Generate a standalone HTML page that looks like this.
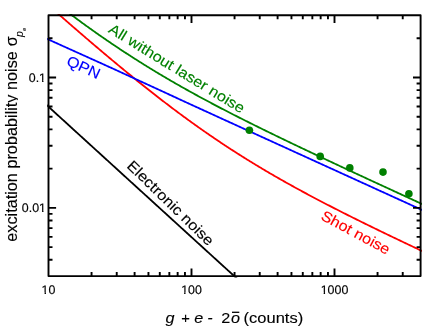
<!DOCTYPE html>
<html><head><meta charset="utf-8"><style>
html,body{margin:0;padding:0;background:#fff;}
svg{display:block;will-change:transform}
text{font-family:"Liberation Sans",sans-serif;}
</style></head><body>
<svg width="436" height="332" viewBox="0 0 436 332">
<rect width="436" height="332" fill="#fff"/>
<defs><clipPath id="c"><rect x="47.2" y="14.0" width="374.70000000000005" height="263.40000000000003"/></clipPath></defs>
<g clip-path="url(#c)" fill="none" stroke-width="1.8">
<path d="M44.21,102.82 L45.16,103.69 L46.11,104.55 L47.07,105.42 L48.02,106.29 L48.97,107.16 L49.92,108.02 L50.87,108.89 L51.82,109.76 L52.78,110.63 L53.73,111.50 L54.68,112.36 L55.63,113.23 L56.58,114.10 L57.53,114.97 L58.49,115.84 L59.44,116.70 L60.39,117.57 L61.34,118.44 L62.29,119.31 L63.24,120.17 L64.20,121.04 L65.15,121.91 L66.10,122.78 L67.05,123.65 L68.00,124.51 L68.95,125.38 L69.91,126.25 L70.86,127.12 L71.81,127.98 L72.76,128.85 L73.71,129.72 L74.66,130.59 L75.62,131.46 L76.57,132.32 L77.52,133.19 L78.47,134.06 L79.42,134.93 L80.37,135.80 L81.33,136.66 L82.28,137.53 L83.23,138.40 L84.18,139.27 L85.13,140.13 L86.08,141.00 L87.04,141.87 L87.99,142.74 L88.94,143.61 L89.89,144.47 L90.84,145.34 L91.79,146.21 L92.75,147.08 L93.70,147.94 L94.65,148.81 L95.60,149.68 L96.55,150.55 L97.51,151.42 L98.46,152.28 L99.41,153.15 L100.36,154.02 L101.31,154.89 L102.26,155.76 L103.22,156.62 L104.17,157.49 L105.12,158.36 L106.07,159.23 L107.02,160.09 L107.97,160.96 L108.93,161.83 L109.88,162.70 L110.83,163.57 L111.78,164.43 L112.73,165.30 L113.68,166.17 L114.64,167.04 L115.59,167.90 L116.54,168.77 L117.49,169.64 L118.44,170.51 L119.39,171.38 L120.35,172.24 L121.30,173.11 L122.25,173.98 L123.20,174.85 L124.15,175.72 L125.10,176.58 L126.06,177.45 L127.01,178.32 L127.96,179.19 L128.91,180.05 L129.86,180.92 L130.81,181.79 L131.77,182.66 L132.72,183.53 L133.67,184.39 L134.62,185.26 L135.57,186.13 L136.52,187.00 L137.48,187.87 L138.43,188.73 L139.38,189.60 L140.33,190.47 L141.28,191.34 L142.24,192.20 L143.19,193.07 L144.14,193.94 L145.09,194.81 L146.04,195.68 L146.99,196.54 L147.95,197.41 L148.90,198.28 L149.85,199.15 L150.80,200.01 L151.75,200.88 L152.70,201.75 L153.66,202.62 L154.61,203.49 L155.56,204.35 L156.51,205.22 L157.46,206.09 L158.41,206.96 L159.37,207.83 L160.32,208.69 L161.27,209.56 L162.22,210.43 L163.17,211.30 L164.12,212.16 L165.08,213.03 L166.03,213.90 L166.98,214.77 L167.93,215.64 L168.88,216.50 L169.83,217.37 L170.79,218.24 L171.74,219.11 L172.69,219.97 L173.64,220.84 L174.59,221.71 L175.54,222.58 L176.50,223.45 L177.45,224.31 L178.40,225.18 L179.35,226.05 L180.30,226.92 L181.25,227.79 L182.21,228.65 L183.16,229.52 L184.11,230.39 L185.06,231.26 L186.01,232.12 L186.96,232.99 L187.92,233.86 L188.87,234.73 L189.82,235.60 L190.77,236.46 L191.72,237.33 L192.68,238.20 L193.63,239.07 L194.58,239.93 L195.53,240.80 L196.48,241.67 L197.43,242.54 L198.39,243.41 L199.34,244.27 L200.29,245.14 L201.24,246.01 L202.19,246.88 L203.14,247.75 L204.10,248.61 L205.05,249.48 L206.00,250.35 L206.95,251.22 L207.90,252.08 L208.85,252.95 L209.81,253.82 L210.76,254.69 L211.71,255.56 L212.66,256.42 L213.61,257.29 L214.56,258.16 L215.52,259.03 L216.47,259.90 L217.42,260.76 L218.37,261.63 L219.32,262.50 L220.27,263.37 L221.23,264.23 L222.18,265.10 L223.13,265.97 L224.08,266.84 L225.03,267.71 L225.98,268.57 L226.94,269.44 L227.89,270.31 L228.84,271.18 L229.79,272.04 L230.74,272.91 L231.69,273.78 L232.65,274.65 L233.60,275.52 L234.55,276.38 L235.50,277.25 L236.45,278.12 L237.41,278.99 L238.36,279.86 L239.31,280.72 L240.26,281.59 L241.21,282.46 L242.16,283.33 L243.12,284.19 L244.07,285.06 L245.02,285.93 L245.97,286.80 L246.92,287.67 L247.87,288.53 L248.83,289.40 L249.78,290.27 L250.73,291.14 L251.68,292.00 L252.63,292.87 L253.58,293.74 L254.54,294.61 L255.49,295.48 L256.44,296.34 L257.39,297.21 L258.34,298.08 L259.29,298.95 L260.25,299.82 L261.20,300.68 L262.15,301.55 L263.10,302.42 L264.05,303.29 L265.00,304.15 L265.96,305.02 L266.91,305.89 L267.86,306.76 L268.81,307.63 L269.76,308.49 L270.71,309.36 L271.67,310.23 L272.62,311.10 L273.57,311.96 L274.52,312.83 L275.47,313.70 L276.42,314.57 L277.38,315.44 L278.33,316.30 L279.28,317.17 L280.23,318.04 L281.18,318.91 L282.14,319.78 L283.09,320.64 L284.04,321.51 L284.99,322.38 L285.94,323.25 L286.89,324.11 L287.85,324.98 L288.80,325.85 L289.75,326.72 L290.70,327.59 L291.65,328.45 L292.60,329.32 L293.56,330.19 L294.51,331.06 L295.46,331.93 L296.41,332.79 L297.36,333.66 L298.31,334.53 L299.27,335.40 L300.22,336.26 L301.17,337.13 L302.12,338.00 L303.07,338.87 L304.02,339.74 L304.98,340.60 L305.93,341.47 L306.88,342.34 L307.83,343.21 L308.78,344.07 L309.73,344.94 L310.69,345.81 L311.64,346.68 L312.59,347.55 L313.54,348.41 L314.49,349.28 L315.44,350.15 L316.40,351.02 L317.35,351.89 L318.30,352.75 L319.25,353.62 L320.20,354.49 L321.15,355.36 L322.11,356.22 L323.06,357.09 L324.01,357.96 L324.96,358.83 L325.91,359.70 L326.86,360.56 L327.82,361.43 L328.77,362.30 L329.72,363.17 L330.67,364.03 L331.62,364.90 L332.58,365.77 L333.53,366.64 L334.48,367.51 L335.43,368.37 L336.38,369.24 L337.33,370.11 L338.29,370.98 L339.24,371.85 L340.19,372.71 L341.14,373.58 L342.09,374.45 L343.04,375.32 L344.00,376.18 L344.95,377.05 L345.90,377.92 L346.85,378.79 L347.80,379.66 L348.75,380.52 L349.71,381.39 L350.66,382.26 L351.61,383.13 L352.56,383.99 L353.51,384.86 L354.46,385.73 L355.42,386.60 L356.37,387.47 L357.32,388.33 L358.27,389.20 L359.22,390.07 L360.17,390.94 L361.13,391.81 L362.08,392.67 L363.03,393.54 L363.98,394.41 L364.93,395.28 L365.88,396.14 L366.84,397.01 L367.79,397.88 L368.74,398.75 L369.69,399.62 L370.64,400.48 L371.59,401.35 L372.55,402.22 L373.50,403.09 L374.45,403.96 L375.40,404.82 L376.35,405.69 L377.31,406.56 L378.26,407.43 L379.21,408.29 L380.16,409.16 L381.11,410.03 L382.06,410.90 L383.02,411.77 L383.97,412.63 L384.92,413.50 L385.87,414.37 L386.82,415.24 L387.77,416.10 L388.73,416.97 L389.68,417.84 L390.63,418.71 L391.58,419.58 L392.53,420.44 L393.48,421.31 L394.44,422.18 L395.39,423.05 L396.34,423.92 L397.29,424.78 L398.24,425.65 L399.19,426.52 L400.15,427.39 L401.10,428.25 L402.05,429.12 L403.00,429.99 L403.95,430.86 L404.90,431.73 L405.86,432.59 L406.81,433.46 L407.76,434.33 L408.71,435.20 L409.66,436.06 L410.61,436.93 L411.57,437.80 L412.52,438.67 L413.47,439.54 L414.42,440.40 L415.37,441.27 L416.32,442.14 L417.28,443.01 L418.23,443.88 L419.18,444.74 L420.13,445.61 L421.08,446.48 L422.03,447.35 L422.99,448.21 L423.94,449.08 L424.89,449.95" stroke="#000"/>
<path d="M44.21,1.55 L45.16,2.39 L46.11,3.23 L47.07,4.07 L48.02,4.91 L48.97,5.75 L49.92,6.59 L50.87,7.43 L51.82,8.26 L52.78,9.10 L53.73,9.94 L54.68,10.77 L55.63,11.61 L56.58,12.44 L57.53,13.28 L58.49,14.11 L59.44,14.94 L60.39,15.78 L61.34,16.61 L62.29,17.44 L63.24,18.27 L64.20,19.10 L65.15,19.94 L66.10,20.77 L67.05,21.59 L68.00,22.42 L68.95,23.25 L69.91,24.08 L70.86,24.91 L71.81,25.73 L72.76,26.56 L73.71,27.39 L74.66,28.21 L75.62,29.03 L76.57,29.86 L77.52,30.68 L78.47,31.50 L79.42,32.33 L80.37,33.15 L81.33,33.97 L82.28,34.79 L83.23,35.61 L84.18,36.43 L85.13,37.24 L86.08,38.06 L87.04,38.88 L87.99,39.69 L88.94,40.51 L89.89,41.32 L90.84,42.14 L91.79,42.95 L92.75,43.76 L93.70,44.57 L94.65,45.39 L95.60,46.20 L96.55,47.00 L97.51,47.81 L98.46,48.62 L99.41,49.43 L100.36,50.23 L101.31,51.04 L102.26,51.84 L103.22,52.65 L104.17,53.45 L105.12,54.25 L106.07,55.05 L107.02,55.85 L107.97,56.65 L108.93,57.45 L109.88,58.25 L110.83,59.05 L111.78,59.84 L112.73,60.64 L113.68,61.43 L114.64,62.22 L115.59,63.01 L116.54,63.81 L117.49,64.60 L118.44,65.38 L119.39,66.17 L120.35,66.96 L121.30,67.75 L122.25,68.53 L123.20,69.31 L124.15,70.10 L125.10,70.88 L126.06,71.66 L127.01,72.44 L127.96,73.22 L128.91,74.00 L129.86,74.77 L130.81,75.55 L131.77,76.32 L132.72,77.10 L133.67,77.87 L134.62,78.64 L135.57,79.41 L136.52,80.18 L137.48,80.94 L138.43,81.71 L139.38,82.47 L140.33,83.24 L141.28,84.00 L142.24,84.76 L143.19,85.52 L144.14,86.28 L145.09,87.04 L146.04,87.79 L146.99,88.55 L147.95,89.30 L148.90,90.06 L149.85,90.81 L150.80,91.56 L151.75,92.31 L152.70,93.05 L153.66,93.80 L154.61,94.54 L155.56,95.29 L156.51,96.03 L157.46,96.77 L158.41,97.51 L159.37,98.24 L160.32,98.98 L161.27,99.72 L162.22,100.45 L163.17,101.18 L164.12,101.91 L165.08,102.64 L166.03,103.37 L166.98,104.09 L167.93,104.82 L168.88,105.54 L169.83,106.26 L170.79,106.98 L171.74,107.70 L172.69,108.42 L173.64,109.14 L174.59,109.85 L175.54,110.56 L176.50,111.27 L177.45,111.98 L178.40,112.69 L179.35,113.40 L180.30,114.10 L181.25,114.81 L182.21,115.51 L183.16,116.21 L184.11,116.91 L185.06,117.60 L186.01,118.30 L186.96,118.99 L187.92,119.69 L188.87,120.38 L189.82,121.07 L190.77,121.75 L191.72,122.44 L192.68,123.12 L193.63,123.81 L194.58,124.49 L195.53,125.17 L196.48,125.84 L197.43,126.52 L198.39,127.19 L199.34,127.87 L200.29,128.54 L201.24,129.21 L202.19,129.88 L203.14,130.54 L204.10,131.21 L205.05,131.87 L206.00,132.53 L206.95,133.19 L207.90,133.85 L208.85,134.51 L209.81,135.16 L210.76,135.81 L211.71,136.46 L212.66,137.11 L213.61,137.76 L214.56,138.41 L215.52,139.05 L216.47,139.70 L217.42,140.34 L218.37,140.98 L219.32,141.61 L220.27,142.25 L221.23,142.89 L222.18,143.52 L223.13,144.15 L224.08,144.78 L225.03,145.41 L225.98,146.03 L226.94,146.66 L227.89,147.28 L228.84,147.90 L229.79,148.52 L230.74,149.14 L231.69,149.76 L232.65,150.37 L233.60,150.99 L234.55,151.60 L235.50,152.21 L236.45,152.82 L237.41,153.42 L238.36,154.03 L239.31,154.63 L240.26,155.24 L241.21,155.84 L242.16,156.44 L243.12,157.03 L244.07,157.63 L245.02,158.22 L245.97,158.82 L246.92,159.41 L247.87,160.00 L248.83,160.59 L249.78,161.17 L250.73,161.76 L251.68,162.34 L252.63,162.92 L253.58,163.51 L254.54,164.08 L255.49,164.66 L256.44,165.24 L257.39,165.81 L258.34,166.39 L259.29,166.96 L260.25,167.53 L261.20,168.10 L262.15,168.67 L263.10,169.23 L264.05,169.80 L265.00,170.36 L265.96,170.92 L266.91,171.48 L267.86,172.04 L268.81,172.60 L269.76,173.16 L270.71,173.71 L271.67,174.27 L272.62,174.82 L273.57,175.37 L274.52,175.92 L275.47,176.47 L276.42,177.02 L277.38,177.56 L278.33,178.11 L279.28,178.65 L280.23,179.19 L281.18,179.73 L282.14,180.27 L283.09,180.81 L284.04,181.35 L284.99,181.89 L285.94,182.42 L286.89,182.95 L287.85,183.49 L288.80,184.02 L289.75,184.55 L290.70,185.08 L291.65,185.61 L292.60,186.13 L293.56,186.66 L294.51,187.18 L295.46,187.71 L296.41,188.23 L297.36,188.75 L298.31,189.27 L299.27,189.79 L300.22,190.31 L301.17,190.83 L302.12,191.34 L303.07,191.86 L304.02,192.37 L304.98,192.89 L305.93,193.40 L306.88,193.91 L307.83,194.42 L308.78,194.93 L309.73,195.44 L310.69,195.94 L311.64,196.45 L312.59,196.96 L313.54,197.46 L314.49,197.97 L315.44,198.47 L316.40,198.97 L317.35,199.47 L318.30,199.97 L319.25,200.47 L320.20,200.97 L321.15,201.47 L322.11,201.96 L323.06,202.46 L324.01,202.96 L324.96,203.45 L325.91,203.94 L326.86,204.44 L327.82,204.93 L328.77,205.42 L329.72,205.91 L330.67,206.40 L331.62,206.89 L332.58,207.38 L333.53,207.86 L334.48,208.35 L335.43,208.84 L336.38,209.32 L337.33,209.81 L338.29,210.29 L339.24,210.78 L340.19,211.26 L341.14,211.74 L342.09,212.22 L343.04,212.70 L344.00,213.18 L344.95,213.66 L345.90,214.14 L346.85,214.62 L347.80,215.10 L348.75,215.57 L349.71,216.05 L350.66,216.53 L351.61,217.00 L352.56,217.48 L353.51,217.95 L354.46,218.42 L355.42,218.90 L356.37,219.37 L357.32,219.84 L358.27,220.31 L359.22,220.78 L360.17,221.26 L361.13,221.73 L362.08,222.19 L363.03,222.66 L363.98,223.13 L364.93,223.60 L365.88,224.07 L366.84,224.53 L367.79,225.00 L368.74,225.47 L369.69,225.93 L370.64,226.40 L371.59,226.86 L372.55,227.33 L373.50,227.79 L374.45,228.25 L375.40,228.72 L376.35,229.18 L377.31,229.64 L378.26,230.10 L379.21,230.57 L380.16,231.03 L381.11,231.49 L382.06,231.95 L383.02,232.41 L383.97,232.87 L384.92,233.33 L385.87,233.78 L386.82,234.24 L387.77,234.70 L388.73,235.16 L389.68,235.62 L390.63,236.07 L391.58,236.53 L392.53,236.99 L393.48,237.44 L394.44,237.90 L395.39,238.35 L396.34,238.81 L397.29,239.26 L398.24,239.72 L399.19,240.17 L400.15,240.63 L401.10,241.08 L402.05,241.53 L403.00,241.99 L403.95,242.44 L404.90,242.89 L405.86,243.34 L406.81,243.80 L407.76,244.25 L408.71,244.70 L409.66,245.15 L410.61,245.60 L411.57,246.05 L412.52,246.50 L413.47,246.95 L414.42,247.40 L415.37,247.85 L416.32,248.30 L417.28,248.75 L418.23,249.20 L419.18,249.65 L420.13,250.10 L421.08,250.55 L422.03,250.99 L422.99,251.44 L423.94,251.89 L424.89,252.34" stroke="#ff0000"/>
<path d="M44.21,37.61 L45.16,38.04 L46.11,38.47 L47.07,38.90 L48.02,39.33 L48.97,39.76 L49.92,40.19 L50.87,40.62 L51.82,41.05 L52.78,41.48 L53.73,41.91 L54.68,42.33 L55.63,42.76 L56.58,43.19 L57.53,43.62 L58.49,44.05 L59.44,44.48 L60.39,44.91 L61.34,45.34 L62.29,45.77 L63.24,46.20 L64.20,46.62 L65.15,47.05 L66.10,47.48 L67.05,47.91 L68.00,48.34 L68.95,48.77 L69.91,49.20 L70.86,49.62 L71.81,50.05 L72.76,50.48 L73.71,50.91 L74.66,51.34 L75.62,51.77 L76.57,52.20 L77.52,52.62 L78.47,53.05 L79.42,53.48 L80.37,53.91 L81.33,54.34 L82.28,54.77 L83.23,55.20 L84.18,55.62 L85.13,56.05 L86.08,56.48 L87.04,56.91 L87.99,57.34 L88.94,57.77 L89.89,58.20 L90.84,58.63 L91.79,59.06 L92.75,59.49 L93.70,59.92 L94.65,60.35 L95.60,60.78 L96.55,61.21 L97.51,61.64 L98.46,62.07 L99.41,62.50 L100.36,62.93 L101.31,63.36 L102.26,63.79 L103.22,64.23 L104.17,64.66 L105.12,65.09 L106.07,65.52 L107.02,65.95 L107.97,66.39 L108.93,66.82 L109.88,67.25 L110.83,67.68 L111.78,68.12 L112.73,68.55 L113.68,68.98 L114.64,69.42 L115.59,69.85 L116.54,70.29 L117.49,70.72 L118.44,71.15 L119.39,71.59 L120.35,72.02 L121.30,72.46 L122.25,72.89 L123.20,73.33 L124.15,73.77 L125.10,74.20 L126.06,74.64 L127.01,75.07 L127.96,75.51 L128.91,75.95 L129.86,76.38 L130.81,76.82 L131.77,77.26 L132.72,77.69 L133.67,78.13 L134.62,78.57 L135.57,79.01 L136.52,79.45 L137.48,79.88 L138.43,80.32 L139.38,80.76 L140.33,81.20 L141.28,81.64 L142.24,82.08 L143.19,82.51 L144.14,82.95 L145.09,83.39 L146.04,83.83 L146.99,84.27 L147.95,84.71 L148.90,85.15 L149.85,85.59 L150.80,86.03 L151.75,86.47 L152.70,86.90 L153.66,87.34 L154.61,87.78 L155.56,88.22 L156.51,88.66 L157.46,89.10 L158.41,89.54 L159.37,89.98 L160.32,90.42 L161.27,90.86 L162.22,91.30 L163.17,91.74 L164.12,92.18 L165.08,92.62 L166.03,93.05 L166.98,93.49 L167.93,93.93 L168.88,94.37 L169.83,94.81 L170.79,95.25 L171.74,95.69 L172.69,96.13 L173.64,96.57 L174.59,97.00 L175.54,97.44 L176.50,97.88 L177.45,98.32 L178.40,98.76 L179.35,99.20 L180.30,99.64 L181.25,100.07 L182.21,100.51 L183.16,100.95 L184.11,101.39 L185.06,101.82 L186.01,102.26 L186.96,102.70 L187.92,103.14 L188.87,103.57 L189.82,104.01 L190.77,104.45 L191.72,104.89 L192.68,105.32 L193.63,105.76 L194.58,106.20 L195.53,106.63 L196.48,107.07 L197.43,107.51 L198.39,107.94 L199.34,108.38 L200.29,108.82 L201.24,109.25 L202.19,109.69 L203.14,110.13 L204.10,110.56 L205.05,111.00 L206.00,111.43 L206.95,111.87 L207.90,112.30 L208.85,112.74 L209.81,113.18 L210.76,113.61 L211.71,114.05 L212.66,114.48 L213.61,114.92 L214.56,115.35 L215.52,115.79 L216.47,116.22 L217.42,116.66 L218.37,117.09 L219.32,117.53 L220.27,117.96 L221.23,118.40 L222.18,118.83 L223.13,119.27 L224.08,119.70 L225.03,120.14 L225.98,120.57 L226.94,121.01 L227.89,121.44 L228.84,121.88 L229.79,122.31 L230.74,122.75 L231.69,123.18 L232.65,123.61 L233.60,124.05 L234.55,124.48 L235.50,124.92 L236.45,125.35 L237.41,125.79 L238.36,126.22 L239.31,126.65 L240.26,127.09 L241.21,127.52 L242.16,127.96 L243.12,128.39 L244.07,128.83 L245.02,129.26 L245.97,129.69 L246.92,130.13 L247.87,130.56 L248.83,131.00 L249.78,131.43 L250.73,131.86 L251.68,132.30 L252.63,132.73 L253.58,133.17 L254.54,133.60 L255.49,134.04 L256.44,134.47 L257.39,134.90 L258.34,135.34 L259.29,135.77 L260.25,136.21 L261.20,136.64 L262.15,137.07 L263.10,137.51 L264.05,137.94 L265.00,138.38 L265.96,138.81 L266.91,139.24 L267.86,139.68 L268.81,140.11 L269.76,140.54 L270.71,140.98 L271.67,141.41 L272.62,141.85 L273.57,142.28 L274.52,142.71 L275.47,143.15 L276.42,143.58 L277.38,144.02 L278.33,144.45 L279.28,144.88 L280.23,145.32 L281.18,145.75 L282.14,146.19 L283.09,146.62 L284.04,147.05 L284.99,147.49 L285.94,147.92 L286.89,148.36 L287.85,148.79 L288.80,149.22 L289.75,149.66 L290.70,150.09 L291.65,150.53 L292.60,150.96 L293.56,151.39 L294.51,151.83 L295.46,152.26 L296.41,152.70 L297.36,153.13 L298.31,153.56 L299.27,154.00 L300.22,154.43 L301.17,154.86 L302.12,155.30 L303.07,155.73 L304.02,156.17 L304.98,156.60 L305.93,157.03 L306.88,157.47 L307.83,157.90 L308.78,158.34 L309.73,158.77 L310.69,159.20 L311.64,159.64 L312.59,160.07 L313.54,160.51 L314.49,160.94 L315.44,161.37 L316.40,161.81 L317.35,162.24 L318.30,162.68 L319.25,163.11 L320.20,163.54 L321.15,163.98 L322.11,164.41 L323.06,164.84 L324.01,165.28 L324.96,165.71 L325.91,166.15 L326.86,166.58 L327.82,167.01 L328.77,167.45 L329.72,167.88 L330.67,168.32 L331.62,168.75 L332.58,169.18 L333.53,169.62 L334.48,170.05 L335.43,170.49 L336.38,170.92 L337.33,171.35 L338.29,171.79 L339.24,172.22 L340.19,172.66 L341.14,173.09 L342.09,173.52 L343.04,173.96 L344.00,174.39 L344.95,174.82 L345.90,175.26 L346.85,175.69 L347.80,176.13 L348.75,176.56 L349.71,176.99 L350.66,177.43 L351.61,177.86 L352.56,178.30 L353.51,178.73 L354.46,179.16 L355.42,179.60 L356.37,180.03 L357.32,180.47 L358.27,180.90 L359.22,181.33 L360.17,181.77 L361.13,182.20 L362.08,182.64 L363.03,183.07 L363.98,183.50 L364.93,183.94 L365.88,184.37 L366.84,184.80 L367.79,185.24 L368.74,185.67 L369.69,186.11 L370.64,186.54 L371.59,186.97 L372.55,187.41 L373.50,187.84 L374.45,188.28 L375.40,188.71 L376.35,189.14 L377.31,189.58 L378.26,190.01 L379.21,190.45 L380.16,190.88 L381.11,191.31 L382.06,191.75 L383.02,192.18 L383.97,192.62 L384.92,193.05 L385.87,193.48 L386.82,193.92 L387.77,194.35 L388.73,194.78 L389.68,195.22 L390.63,195.65 L391.58,196.09 L392.53,196.52 L393.48,196.95 L394.44,197.39 L395.39,197.82 L396.34,198.26 L397.29,198.69 L398.24,199.12 L399.19,199.56 L400.15,199.99 L401.10,200.43 L402.05,200.86 L403.00,201.29 L403.95,201.73 L404.90,202.16 L405.86,202.60 L406.81,203.03 L407.76,203.46 L408.71,203.90 L409.66,204.33 L410.61,204.77 L411.57,205.20 L412.52,205.63 L413.47,206.07 L414.42,206.50 L415.37,206.93 L416.32,207.37 L417.28,207.80 L418.23,208.24 L419.18,208.67 L420.13,209.10 L421.08,209.54 L422.03,209.97 L422.99,210.41 L423.94,210.84 L424.89,211.27" stroke="#0000ff"/>
<path d="M44.21,-6.05 L45.16,-5.29 L46.11,-4.54 L47.07,-3.79 L48.02,-3.04 L48.97,-2.30 L49.92,-1.55 L50.87,-0.81 L51.82,-0.06 L52.78,0.68 L53.73,1.42 L54.68,2.16 L55.63,2.89 L56.58,3.63 L57.53,4.36 L58.49,5.10 L59.44,5.83 L60.39,6.56 L61.34,7.29 L62.29,8.01 L63.24,8.74 L64.20,9.46 L65.15,10.18 L66.10,10.91 L67.05,11.63 L68.00,12.34 L68.95,13.06 L69.91,13.77 L70.86,14.49 L71.81,15.20 L72.76,15.91 L73.71,16.62 L74.66,17.33 L75.62,18.03 L76.57,18.73 L77.52,19.44 L78.47,20.14 L79.42,20.84 L80.37,21.53 L81.33,22.23 L82.28,22.92 L83.23,23.62 L84.18,24.31 L85.13,25.00 L86.08,25.69 L87.04,26.37 L87.99,27.06 L88.94,27.74 L89.89,28.42 L90.84,29.10 L91.79,29.78 L92.75,30.46 L93.70,31.13 L94.65,31.80 L95.60,32.48 L96.55,33.15 L97.51,33.81 L98.46,34.48 L99.41,35.15 L100.36,35.81 L101.31,36.47 L102.26,37.13 L103.22,37.79 L104.17,38.45 L105.12,39.10 L106.07,39.76 L107.02,40.41 L107.97,41.06 L108.93,41.71 L109.88,42.36 L110.83,43.01 L111.78,43.65 L112.73,44.29 L113.68,44.93 L114.64,45.57 L115.59,46.21 L116.54,46.85 L117.49,47.48 L118.44,48.12 L119.39,48.75 L120.35,49.38 L121.30,50.01 L122.25,50.64 L123.20,51.26 L124.15,51.89 L125.10,52.51 L126.06,53.13 L127.01,53.75 L127.96,54.37 L128.91,54.98 L129.86,55.60 L130.81,56.21 L131.77,56.82 L132.72,57.43 L133.67,58.04 L134.62,58.65 L135.57,59.26 L136.52,59.86 L137.48,60.46 L138.43,61.07 L139.38,61.67 L140.33,62.27 L141.28,62.86 L142.24,63.46 L143.19,64.05 L144.14,64.64 L145.09,65.24 L146.04,65.83 L146.99,66.41 L147.95,67.00 L148.90,67.59 L149.85,68.17 L150.80,68.75 L151.75,69.33 L152.70,69.91 L153.66,70.49 L154.61,71.07 L155.56,71.65 L156.51,72.22 L157.46,72.79 L158.41,73.36 L159.37,73.93 L160.32,74.50 L161.27,75.07 L162.22,75.63 L163.17,76.20 L164.12,76.76 L165.08,77.32 L166.03,77.88 L166.98,78.44 L167.93,79.00 L168.88,79.56 L169.83,80.11 L170.79,80.67 L171.74,81.22 L172.69,81.77 L173.64,82.32 L174.59,82.87 L175.54,83.41 L176.50,83.96 L177.45,84.50 L178.40,85.05 L179.35,85.59 L180.30,86.13 L181.25,86.67 L182.21,87.21 L183.16,87.75 L184.11,88.28 L185.06,88.82 L186.01,89.35 L186.96,89.88 L187.92,90.41 L188.87,90.94 L189.82,91.47 L190.77,92.00 L191.72,92.53 L192.68,93.05 L193.63,93.58 L194.58,94.10 L195.53,94.62 L196.48,95.14 L197.43,95.66 L198.39,96.18 L199.34,96.70 L200.29,97.21 L201.24,97.73 L202.19,98.24 L203.14,98.76 L204.10,99.27 L205.05,99.78 L206.00,100.29 L206.95,100.80 L207.90,101.31 L208.85,101.82 L209.81,102.32 L210.76,102.83 L211.71,103.33 L212.66,103.84 L213.61,104.34 L214.56,104.84 L215.52,105.34 L216.47,105.84 L217.42,106.34 L218.37,106.84 L219.32,107.34 L220.27,107.84 L221.23,108.33 L222.18,108.83 L223.13,109.32 L224.08,109.81 L225.03,110.31 L225.98,110.80 L226.94,111.29 L227.89,111.78 L228.84,112.27 L229.79,112.76 L230.74,113.24 L231.69,113.73 L232.65,114.22 L233.60,114.70 L234.55,115.19 L235.50,115.67 L236.45,116.16 L237.41,116.64 L238.36,117.12 L239.31,117.60 L240.26,118.09 L241.21,118.57 L242.16,119.05 L243.12,119.52 L244.07,120.00 L245.02,120.48 L245.97,120.96 L246.92,121.43 L247.87,121.91 L248.83,122.39 L249.78,122.86 L250.73,123.33 L251.68,123.81 L252.63,124.28 L253.58,124.75 L254.54,125.23 L255.49,125.70 L256.44,126.17 L257.39,126.64 L258.34,127.11 L259.29,127.58 L260.25,128.05 L261.20,128.52 L262.15,128.98 L263.10,129.45 L264.05,129.92 L265.00,130.38 L265.96,130.85 L266.91,131.32 L267.86,131.78 L268.81,132.25 L269.76,132.71 L270.71,133.17 L271.67,133.64 L272.62,134.10 L273.57,134.56 L274.52,135.03 L275.47,135.49 L276.42,135.95 L277.38,136.41 L278.33,136.87 L279.28,137.33 L280.23,137.79 L281.18,138.25 L282.14,138.71 L283.09,139.17 L284.04,139.63 L284.99,140.08 L285.94,140.54 L286.89,141.00 L287.85,141.46 L288.80,141.91 L289.75,142.37 L290.70,142.83 L291.65,143.28 L292.60,143.74 L293.56,144.19 L294.51,144.65 L295.46,145.10 L296.41,145.55 L297.36,146.01 L298.31,146.46 L299.27,146.92 L300.22,147.37 L301.17,147.82 L302.12,148.27 L303.07,148.73 L304.02,149.18 L304.98,149.63 L305.93,150.08 L306.88,150.53 L307.83,150.98 L308.78,151.43 L309.73,151.88 L310.69,152.33 L311.64,152.78 L312.59,153.23 L313.54,153.68 L314.49,154.13 L315.44,154.58 L316.40,155.03 L317.35,155.48 L318.30,155.93 L319.25,156.38 L320.20,156.82 L321.15,157.27 L322.11,157.72 L323.06,158.17 L324.01,158.61 L324.96,159.06 L325.91,159.51 L326.86,159.95 L327.82,160.40 L328.77,160.85 L329.72,161.29 L330.67,161.74 L331.62,162.18 L332.58,162.63 L333.53,163.07 L334.48,163.52 L335.43,163.96 L336.38,164.41 L337.33,164.85 L338.29,165.30 L339.24,165.74 L340.19,166.19 L341.14,166.63 L342.09,167.07 L343.04,167.52 L344.00,167.96 L344.95,168.40 L345.90,168.85 L346.85,169.29 L347.80,169.73 L348.75,170.18 L349.71,170.62 L350.66,171.06 L351.61,171.50 L352.56,171.95 L353.51,172.39 L354.46,172.83 L355.42,173.27 L356.37,173.72 L357.32,174.16 L358.27,174.60 L359.22,175.04 L360.17,175.48 L361.13,175.92 L362.08,176.36 L363.03,176.80 L363.98,177.25 L364.93,177.69 L365.88,178.13 L366.84,178.57 L367.79,179.01 L368.74,179.45 L369.69,179.89 L370.64,180.33 L371.59,180.77 L372.55,181.21 L373.50,181.65 L374.45,182.09 L375.40,182.53 L376.35,182.97 L377.31,183.41 L378.26,183.85 L379.21,184.29 L380.16,184.73 L381.11,185.17 L382.06,185.61 L383.02,186.04 L383.97,186.48 L384.92,186.92 L385.87,187.36 L386.82,187.80 L387.77,188.24 L388.73,188.68 L389.68,189.12 L390.63,189.55 L391.58,189.99 L392.53,190.43 L393.48,190.87 L394.44,191.31 L395.39,191.75 L396.34,192.18 L397.29,192.62 L398.24,193.06 L399.19,193.50 L400.15,193.94 L401.10,194.37 L402.05,194.81 L403.00,195.25 L403.95,195.69 L404.90,196.13 L405.86,196.56 L406.81,197.00 L407.76,197.44 L408.71,197.87 L409.66,198.31 L410.61,198.75 L411.57,199.19 L412.52,199.62 L413.47,200.06 L414.42,200.50 L415.37,200.94 L416.32,201.37 L417.28,201.81 L418.23,202.25 L419.18,202.68 L420.13,203.12 L421.08,203.56 L422.03,203.99 L422.99,204.43 L423.94,204.87 L424.89,205.30" stroke="#008000"/>
</g>
<g fill="#008000"><circle cx="249.4" cy="130.3" r="3.8"/><circle cx="320.2" cy="156.4" r="3.8"/><circle cx="349.8" cy="167.9" r="3.8"/><circle cx="383" cy="172.1" r="3.8"/><circle cx="408.9" cy="193.8" r="3.8"/></g>
<rect x="48.5" y="15.3" width="372.1" height="260.8" fill="none" stroke="#000" stroke-width="1.9" stroke-linejoin="round"/>
<path d="M91.55,276.10 v-4.0 M91.55,15.30 v4.0 M116.73,276.10 v-4.0 M116.73,15.30 v4.0 M134.60,276.10 v-4.0 M134.60,15.30 v4.0 M148.45,276.10 v-4.0 M148.45,15.30 v4.0 M159.78,276.10 v-4.0 M159.78,15.30 v4.0 M169.35,276.10 v-4.0 M169.35,15.30 v4.0 M177.64,276.10 v-4.0 M177.64,15.30 v4.0 M184.96,276.10 v-4.0 M184.96,15.30 v4.0 M191.50,276.10 v-7.6 M191.50,15.30 v7.6 M234.55,276.10 v-4.0 M234.55,15.30 v4.0 M259.73,276.10 v-4.0 M259.73,15.30 v4.0 M277.60,276.10 v-4.0 M277.60,15.30 v4.0 M291.46,276.10 v-4.0 M291.46,15.30 v4.0 M302.78,276.10 v-4.0 M302.78,15.30 v4.0 M312.35,276.10 v-4.0 M312.35,15.30 v4.0 M320.65,276.10 v-4.0 M320.65,15.30 v4.0 M327.96,276.10 v-4.0 M327.96,15.30 v4.0 M334.50,276.10 v-7.6 M334.50,15.30 v7.6 M377.55,276.10 v-4.0 M377.55,15.30 v4.0 M402.73,276.10 v-4.0 M402.73,15.30 v4.0 M48.50,259.81 h4.0 M420.60,259.81 h-4.0 M48.50,247.17 h4.0 M420.60,247.17 h-4.0 M48.50,236.85 h4.0 M420.60,236.85 h-4.0 M48.50,228.12 h4.0 M420.60,228.12 h-4.0 M48.50,220.55 h4.0 M420.60,220.55 h-4.0 M48.50,213.88 h4.0 M420.60,213.88 h-4.0 M48.50,207.92 h7.6 M420.60,207.92 h-7.6 M48.50,168.66 h4.0 M420.60,168.66 h-4.0 M48.50,145.70 h4.0 M420.60,145.70 h-4.0 M48.50,129.41 h4.0 M420.60,129.41 h-4.0 M48.50,116.77 h4.0 M420.60,116.77 h-4.0 M48.50,106.45 h4.0 M420.60,106.45 h-4.0 M48.50,97.72 h4.0 M420.60,97.72 h-4.0 M48.50,90.15 h4.0 M420.60,90.15 h-4.0 M48.50,83.48 h4.0 M420.60,83.48 h-4.0 M48.50,77.52 h7.6 M420.60,77.52 h-7.6 M48.50,38.26 h4.0 M420.60,38.26 h-4.0" stroke="#000" stroke-width="1.9" fill="none"/>
<text x="28.76" y="81.9" font-size="12.4" fill="#000" stroke="#000" stroke-width="0.15" style="text-rendering:geometricPrecision">0.1</text><rect x="39.45" y="80.42" width="2.62" height="2.23" fill="#fff"/><rect x="43.47" y="80.42" width="2.53" height="2.23" fill="#fff"/>
<text x="21.86" y="212.3" font-size="12.4" fill="#000" stroke="#000" stroke-width="0.15" style="text-rendering:geometricPrecision">0.01</text><rect x="39.45" y="210.82" width="2.62" height="2.23" fill="#fff"/><rect x="43.47" y="210.82" width="2.53" height="2.23" fill="#fff"/>
<text x="41.60" y="294" font-size="12.4" fill="#000" stroke="#000" stroke-width="0.15" style="text-rendering:geometricPrecision">10</text><rect x="41.95" y="292.52" width="2.62" height="2.23" fill="#fff"/><rect x="45.97" y="292.52" width="2.53" height="2.23" fill="#fff"/>
<text x="181.16" y="294" font-size="12.4" fill="#000" stroke="#000" stroke-width="0.15" style="text-rendering:geometricPrecision">100</text><rect x="181.50" y="292.52" width="2.62" height="2.23" fill="#fff"/><rect x="185.52" y="292.52" width="2.53" height="2.23" fill="#fff"/>
<text x="320.71" y="294" font-size="12.4" fill="#000" stroke="#000" stroke-width="0.15" style="text-rendering:geometricPrecision">1000</text><rect x="321.05" y="292.52" width="2.62" height="2.23" fill="#fff"/><rect x="325.07" y="292.52" width="2.53" height="2.23" fill="#fff"/>
<text id="t1" transform="translate(107.5,31.8) rotate(31.6) scale(1.095,1)" font-size="14.8" fill="#008000" stroke="#008000" stroke-width="0.12" >All without laser noise</text>
<text id="t2" transform="translate(65.5,64.4) rotate(25) scale(1.095,1)" font-size="14.8" fill="#0000ff" stroke="#0000ff" stroke-width="0.12" >QPN</text>
<text id="t3" transform="translate(126.1,166.8) rotate(44.2) scale(1.095,1)" font-size="14.8" fill="#000" stroke="#000" stroke-width="0.12" >Electronic noise</text>
<text id="t4" transform="translate(319.9,218.9) rotate(28.3) scale(1.085,1)" font-size="14.8" fill="#ff0000" stroke="#ff0000" stroke-width="0.12" >Shot noise</text>
<text id="yl" transform="translate(17.3,241.75) rotate(-90) scale(1.004,1)" font-size="16.2" fill="#000" stroke="#000" stroke-width="0.12" >excitation probability noise</text>
<rect x="17.9" y="95" width="6" height="16" fill="#fff"/>
<text id="sg" transform="translate(17.2,46.3) rotate(-90) scale(1.0,1)" font-size="16.2" fill="#000" stroke="#000" stroke-width="0.12" >&#963;</text>
<text id="sp" transform="translate(23.4,36.9) rotate(-90) scale(1.0,1)" font-size="10.5" fill="#000" stroke="#000" stroke-width="0.1" font-style="italic">p</text>
<text id="se" transform="translate(26.0,31.0) rotate(-90) scale(1.095,1)" font-size="5.3" fill="#000" stroke="#000" stroke-width="0.1" font-style="italic">e</text>
<text id="x1" transform="translate(165.4,322.9) rotate(0) scale(1.095,1)" font-size="14.8" fill="#000" stroke="#000" stroke-width="0.12" font-style="italic">g</text>
<text id="x2" transform="translate(181.3,322.9) rotate(0) scale(1.0,1)" font-size="14.8" fill="#000" stroke="#000" stroke-width="0.12" >+</text>
<text id="x3" transform="translate(194.3,322.9) rotate(0) scale(1.095,1)" font-size="14.8" fill="#000" stroke="#000" stroke-width="0.12" font-style="italic">e</text>
<text id="x4" transform="translate(207.6,322.9) rotate(0) scale(1.095,1)" font-size="14.8" fill="#000" stroke="#000" stroke-width="0.12" >-</text>
<text id="x5" transform="translate(221.2,322.9) rotate(0) scale(1.095,1)" font-size="14.8" fill="#000" stroke="#000" stroke-width="0.12" >2</text>
<text id="x6" transform="translate(230.9,322.9) rotate(0) scale(1.095,1)" font-size="14.8" fill="#000" stroke="#000" stroke-width="0.12" font-style="italic">o</text>
<text id="x7" transform="translate(243.6,322.9) rotate(0) scale(1.115,1)" font-size="14.8" fill="#000" stroke="#000" stroke-width="0.12" >(counts)</text>
<path d="M232.0,312.3 H239.3" stroke="#000" stroke-width="1.3" fill="none"/>
</svg>
</body></html>
